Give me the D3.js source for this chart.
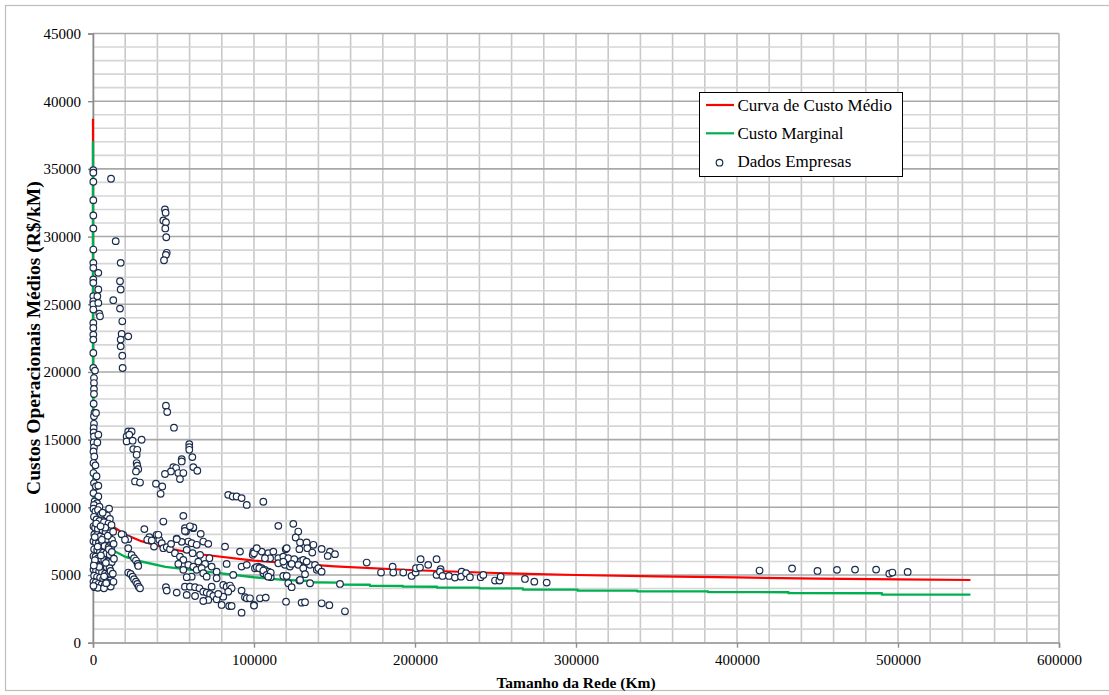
<!DOCTYPE html>
<html><head><meta charset="utf-8">
<script src="https://cdn.jsdelivr.net/npm/d3@7"></script>
<style>
body{margin:0;background:#fff}
svg{display:block}
</style>
</head><body>
<svg id="chart" width="1109" height="695"></svg>
<script>
// ---------- data ----------
const xTicks = [0,100000,200000,300000,400000,500000,600000];
const yTicks = [0,5000,10000,15000,20000,25000,30000,35000,40000,45000];
const xTitle = "Tamanho da Rede (Km)";
const yTitle = "Custos Operacionais Médios (R$/kM)";
const legendLabels = ["Curva de Custo Médio","Custo Marginal","Dados Empresas"];

// Curva de Custo Médio [km, custo]
const avgCurve = [[2,38700],[20,24000],[100,17500],[300,14500],[700,12600],[1500,11200],[3000,10200],[5000,9600],[8000,9050],[12000,8600],[20000,8000],[30000,7500],[45000,7000],[65000,6550],[100000,6060],[150000,5640],[200000,5350],[250000,5150],[300000,5000],[350000,4900],[400000,4820],[450000,4740],[500000,4680],[545000,4630]];

// Custo Marginal [km, custo]
const marginalCurve = [[2,37050],[20,20000],[100,14300],[300,11800],[700,10200],[1500,9000],[3000,8200],[5000,7700],[8000,7250],[12000,6850],[20000,6350],[30000,6000],[45000,5600],[65000,5320],[100000,4830],[118000,4640],[134800,4560],[134800,4470],[152000,4440],[152000,4300],[172000,4280],[172000,4200],[192500,4190],[192500,4140],[213700,4130],[213700,4080],[240000,4070],[240000,4020],[267000,4010],[267000,3930],[301000,3920],[301000,3860],[338000,3850],[338000,3800],[382000,3790],[382000,3740],[432000,3730],[432000,3660],[490000,3650],[490000,3560],[545000,3550]];

// Dados Empresas [km, custo]
const empresas = [
[200,34910],[200,34720],[200,34050],[200,32690],[200,31560],[200,30600],[200,29040],[200,28060],[200,27690],[200,26830],[200,26580],[200,25590],[200,25220],[200,25000],[200,24610],[200,23620],[200,23250],[200,22760],[200,22390],[200,21400],[200,20290],[600,19550],[600,19180],[600,18740],[600,18370],[400,17650],[900,16970],[600,16720],[600,16170],[400,15850],[400,15530],[600,15230],[400,14790],[600,14420],
[3300,27320],[3300,26090],[2700,25590],[3300,25100],[3900,24310],[4350,24110],[1240,20100],[1860,16970],[3300,15360],[2700,14790],
[300,14130],[800,13760],[300,13270],[1500,13100],[300,12530],[2200,12300],[600,11790],[1800,11540],[3300,11600],[300,11050],[3300,10800],[1000,10430],[2500,10300],[600,10180],[4000,10050],
[300,9900],[1500,9700],[3100,9800],[5000,9500],[8700,9400],[10500,9150],
[600,9300],[2200,9100],[4000,9000],[6800,8900],[9600,8800],[11500,8700],
[300,8600],[1300,8500],[3000,8400],[5900,8300],[7800,8200],[10600,8100],
[800,8000],[2500,7950],[4500,7850],[6500,7750],[8800,7650],[11800,7600],
[300,7500],[1800,7400],[3600,7350],[5300,7250],[7200,7150],[9700,7050],[11200,7000],
[700,6900],[2600,6850],[4300,6750],[6200,6650],[8300,6600],[10400,6500],
[300,6400],[1600,6350],[3300,6250],[5100,6150],[7000,6100],[9000,6000],[11600,5950],
[900,5850],[2700,5800],[4600,5700],[6600,5650],[8600,5550],[10300,5500],
[300,5400],[1900,5350],[3800,5250],[5600,5200],[7500,5100],[9500,5050],[11300,5000],
[700,4950],[2500,4850],[4400,4800],[6300,4700],[8400,4650],[10600,4600],
[300,4500],[1700,4450],[3500,4350],[5400,4300],[7300,4250],[9300,4200],[11000,4150],
[1000,4100],[3000,4050],[6800,4020],[8800,4450],[300,4200],
[1200,6100],[2000,8800],[4900,6450],[6000,9600],[7600,8500],[9900,6900],[10900,5300],[3900,5600],[5500,7600],[8000,5900],[2900,7100],[1100,7800],[6900,4900],[4700,8600],[9200,7900],[11700,6700],[500,5700],[8200,4400],[10000,9900],[12500,8200],[12800,7300],[13000,6200],[12300,5100],[12700,4500],
[11200,34270],[14100,29660],[17200,28060],[16770,26700],[17200,26090],[12600,25300],[16770,24680],[18200,23740],[17800,22810],[21900,22630],[17200,22390],[17200,21890],[18200,21200],[18400,20290],
[44700,32000],[45100,31760],[43700,31190],[45300,31060],[44900,30600],[45500,29950],[45800,28800],[45300,28650],[44100,28250],[45300,17510],[46100,17040],[50300,15880],
[21900,15610],[24000,15610],[20900,15240],[22500,15360],[20900,14870],[24600,14920],[30200,14990],[25000,14300],[27500,14250],[27100,13880],[27100,13270],[27500,13070],[28100,12820],[26700,12650],[26100,11910],[29200,11830],
[59800,14670],[59800,14450],[59800,14250],[61700,13710],[55100,13560],[55100,13390],[49900,12970],[51600,12900],[62300,12970],[64800,12700],[48400,12650],[44700,12460],[53000,12530],[56100,12530],[54000,12090],[39100,11740],[43000,11540],[42000,11000],
[84000,10920],[86800,10800],[89200,10800],[92300,10680],[95500,10180],[105800,10410],
[18800,7970],[21900,7650],[21900,6980],[24000,6490],[25500,6240],[26700,6070],[27700,5820],[28100,5670],[21900,5180],[23400,5080],[24600,4880],[25500,4690],[26700,4510],[27500,4340],[28400,4140],[29200,4020],[17800,8020],[19900,7600],
[56100,9370],[43700,8950],[31900,8390],[35000,7800],[33700,7600],[36500,7550],[39500,7970],[41200,7600],[42700,7350],[37900,7100],[43700,6980],[45800,7060],[47800,6910],[50900,6610],[52000,7690],[57100,8460],[57800,8210],[62300,8460],[66900,8040],[59200,7470],[61300,7350],[64400,7230],[58200,6860],[61900,6610],[66500,6490],[68500,7470],[71600,7300],[72300,6240],[65400,5990],[69600,5820],[54000,6360],[56100,6120],[53000,5820],[56100,5380],[59200,5750],[62300,5620],[64400,5380],[67500,5500],[68500,5130],[70600,4880],[61300,4880],[58200,4840],[76800,5250],[73700,5620],[82000,7100],[83000,5820],[87100,5010],[92300,5620],[91300,6730],[55100,7450],[48500,7300],[40600,7970],[57100,8260],[62300,8510],[52000,7650],[60200,8600],
[57100,4140],[60200,4140],[63400,4100],[66100,4020],[68500,3770],[70600,3700],[72700,3600],[74700,3450],[76800,3210],[71600,3160],[68500,3080],[52000,3700],[45300,4100],[45800,3850],[63400,3450],[58200,3530],[73700,4140],[76800,4760],[80900,4270],[83000,4140],[85100,4220],[86100,4020],[84000,3770],[80900,3400],[77800,3600],[79900,2790],[84600,2710],[86100,2710],[92300,2220],[92300,3850],[94400,3360],[95500,3280],[100000,2790],
[99600,6730],[99200,6490],[100600,5500],[102700,5620],[104800,5500],[106800,5380],[105800,5130],[109000,5250],[110000,5010],[110400,4840],[103700,3280],[115100,8630],[124400,8780],[127500,8210],[125900,7770],[128600,7400],[132700,7400],[136900,7230],[133100,6980],[128200,6910],[119700,6910],[142000,6930],[136200,6660],[147200,6730],[150300,6540],[145800,6410],[100000,6610],[108900,6610],[110000,6240],[106800,6240],[115100,6240],[118200,6360],[121300,6240],[125000,6170],[129200,6040],[115100,5870],[119200,5750],[122300,5620],[127500,5750],[130600,5500],[134800,5750],[137900,5750],[139000,5380],[140000,5500],[142000,5250],[101700,5580],[103300,5500],[105800,5330],[107900,5010],[110400,5180],[108900,4880],[118200,4930],[120300,4930],[121300,4390],[123400,4100],[128200,4590],[131700,5060],[134800,4390],[153400,4340],[97500,3280],[100000,2740],[107300,3330],[119900,3030],[129600,2960],[131700,2990],[142000,2910],[146800,2770],[156500,2320],[112000,6730],[104800,6730],[95500,5750],[101700,6980],[120300,6980],[118200,5990],[123400,5820],[130600,6120],[132700,5990],[128600,4640],
[170000,5920],[178900,5180],[186100,5620],[186500,5180],[192700,5180],[197900,4930],[200400,5180],[200600,5500],[203500,6170],[203100,5550],[208200,5750],[213400,6170],[213400,5010],[215900,5430],[215500,5250],[217100,4930],[221100,4930],[224800,4810],[229000,5250],[228600,4880],[231700,5130],[234100,4840],[240800,4840],[242400,5010],[249700,4590],[252400,4590],[253200,4880],[268300,4710],[274100,4510],[281800,4440],
[414000,5330],[434200,5480],[450000,5300],[462100,5380],[473300,5400],[486400,5400],[494600,5100],[496500,5180],[506000,5230]
];

// ---------- layout ----------
const FONT = "'Liberation Serif', 'DejaVu Serif', serif";
const svg = d3.select("#chart");
const W = 1109, H = 695;
const plot = {left:93, right:1059, top:33.5, bottom:642.7};
const x = d3.scaleLinear().domain([0,600000]).range([plot.left, plot.right]);
const y = d3.scaleLinear().domain([0,45000]).range([plot.bottom, plot.top]);

svg.append("rect").attr("x",0).attr("y",0).attr("width",W).attr("height",H).attr("fill","#fff");
svg.append("rect").attr("x",5.5).attr("y",5.5).attr("width",1110).attr("height",685)
  .attr("fill","#fff").attr("stroke","#bdbdbd").attr("stroke-width",1.2);

const grid = svg.append("g");
grid.selectAll("line.v").data(x.ticks(30)).join("line")
  .attr("x1",d=>x(d)).attr("x2",d=>x(d)).attr("y1",plot.top).attr("y2",plot.bottom)
  .attr("stroke","#c9c9c9").attr("stroke-width",1.6);
grid.selectAll("line.hm").data(y.ticks(45).filter(d=>d%5000!==0)).join("line")
  .attr("x1",plot.left).attr("x2",plot.right).attr("y1",d=>y(d)).attr("y2",d=>y(d))
  .attr("stroke","#d6d6d6").attr("stroke-width",1.6);
grid.selectAll("line.hM").data(yTicks).join("line")
  .attr("x1",plot.left).attr("x2",plot.right).attr("y1",d=>y(d)).attr("y2",d=>y(d))
  .attr("stroke","#a8a8a8").attr("stroke-width",1.6);
svg.append("line").attr("x1",plot.right).attr("x2",plot.right).attr("y1",plot.top).attr("y2",plot.bottom)
  .attr("stroke","#c0c0c0").attr("stroke-width",1.6);

// axes
const fmt = d => String(d);
const yAxis = svg.append("g").attr("transform",`translate(${plot.left},0)`)
  .call(d3.axisLeft(y).tickValues(yTicks).tickFormat(fmt).tickSize(5).tickPadding(7));
const xAxis = svg.append("g").attr("transform",`translate(0,${plot.bottom})`)
  .call(d3.axisBottom(x).tickValues(xTicks).tickFormat(fmt).tickSize(5).tickPadding(7));
[yAxis,xAxis].forEach(a=>{
  a.attr("font-family",null).attr("font-size",null);
  a.select(".domain").attr("stroke","#8c8c8c").attr("stroke-width",1.6);
  a.selectAll(".tick line").attr("stroke","#8c8c8c").attr("stroke-width",1.4);
  a.selectAll(".tick text").style("font-family",FONT).style("font-size","15px").attr("fill","#000");
});
xAxis.select(".domain").attr("stroke","#a8a8a8");

// titles
svg.append("text").attr("x",(plot.left+plot.right)/2).attr("y",688)
  .attr("text-anchor","middle").style("font-family",FONT).style("font-weight","bold").style("font-size","15.5px").text(xTitle);
svg.append("text").attr("transform",`translate(33,${(plot.top+plot.bottom)/2}) rotate(-90)`)
  .attr("text-anchor","middle").attr("dominant-baseline","central")
  .style("font-family",FONT).style("font-weight","bold").style("font-size","19.5px").text(yTitle);

// curves
const line = d3.line().x(d=>x(d[0])).y(d=>y(d[1]));
svg.append("path").datum(avgCurve).attr("d",line).attr("fill","none")
  .attr("stroke","#ff0000").attr("stroke-width",2.2).attr("stroke-linejoin","round");
svg.append("path").datum(marginalCurve).attr("d",line).attr("fill","none")
  .attr("stroke","#00b050").attr("stroke-width",2.4).attr("stroke-linejoin","round");

// scatter
svg.append("g").selectAll("circle").data(empresas).join("circle")
  .attr("cx",d=>x(d[0])).attr("cy",d=>y(d[1])).attr("r",3.3)
  .attr("fill","#fff").attr("stroke","#1b2d4d").attr("stroke-width",1.2);

// legend
const lg = svg.append("g").attr("transform","translate(699.5,92.5)");
lg.append("rect").attr("width",203).attr("height",84).attr("fill","#fff").attr("stroke","#000").attr("stroke-width",1);
const rowsY = [12.5,40.8,69.2];
const colors = ["#ff0000","#00b050",null];
legendLabels.forEach((lab,i)=>{
  if(colors[i]){
    lg.append("line").attr("x1",6.5).attr("x2",34.5).attr("y1",rowsY[i]).attr("y2",rowsY[i])
      .attr("stroke",colors[i]).attr("stroke-width",2.2);
  } else {
    lg.append("circle").attr("cx",20).attr("cy",rowsY[i]+1).attr("r",3.3)
      .attr("fill","#fff").attr("stroke","#1b2d4d").attr("stroke-width",1.2);
  }
  lg.append("text").attr("x",38).attr("y",rowsY[i]).attr("dominant-baseline","central")
    .style("font-family",FONT).style("font-size","17px").text(lab);
});
</script>
</body></html>
